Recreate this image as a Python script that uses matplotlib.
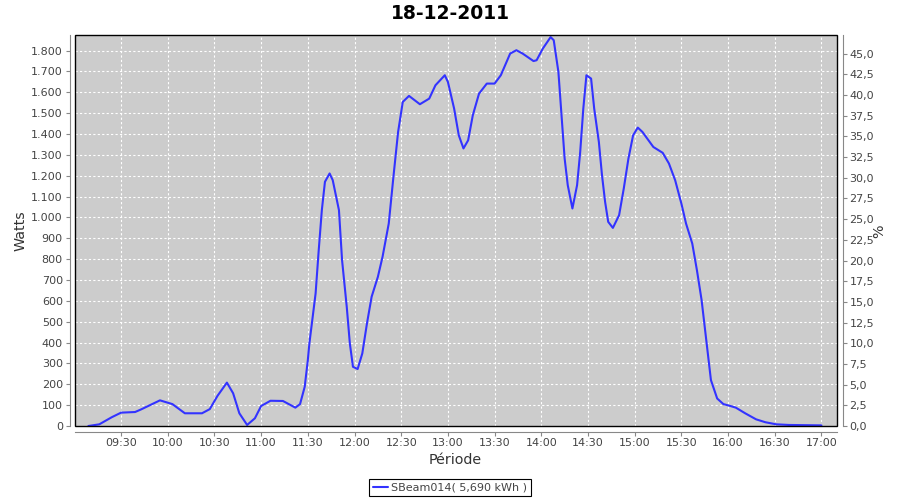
import matplotlib
matplotlib.use("Agg")
import matplotlib.pyplot as plt
import matplotlib.dates as mdates
from matplotlib.ticker import MultipleLocator, FuncFormatter
from matplotlib.patches import Rectangle
import pandas as pd

# Data (time of day, Watts)
times = ["09:09", "09:16", "09:24", "09:30", "09:39", "09:43", "09:55", "10:03",
         "10:11", "10:22", "10:27", "10:32", "10:38", "10:42", "10:46", "10:51",
         "10:56", "11:00", "11:06", "11:14", "11:22", "11:25", "11:28", "11:30",
         "11:31", "11:35", "11:37", "11:39", "11:41", "11:44", "11:46", "11:50",
         "11:52", "11:55", "11:57", "11:59", "12:02", "12:05", "12:08", "12:11",
         "12:15", "12:18", "12:22", "12:25", "12:28", "12:31", "12:35", "12:42",
         "12:48", "12:52", "12:58", "13:00", "13:04", "13:07", "13:10", "13:13",
         "13:16", "13:20", "13:25", "13:30", "13:34", "13:40", "13:44", "13:48",
         "13:55", "13:57", "14:01", "14:06", "14:08", "14:11", "14:13", "14:15",
         "14:17", "14:20", "14:23", "14:25", "14:27", "14:29", "14:32", "14:34",
         "14:37", "14:39", "14:41", "14:43", "14:46", "14:50", "14:53", "14:56",
         "14:59", "15:02", "15:05", "15:08", "15:12", "15:18", "15:22", "15:26",
         "15:30", "15:33", "15:37", "15:40", "15:43", "15:45", "15:47", "15:49",
         "15:53", "15:57", "16:01", "16:05", "16:11", "16:18", "16:24", "16:31",
         "16:39", "17:00"]
watts = [0, 8, 42, 64, 67, 80, 123, 105,
         61, 61, 81, 145, 208, 157, 61, 5,
         37, 96, 121, 120, 88, 105, 188, 316,
         396, 636, 843, 1035, 1171, 1211, 1179, 1035,
         795, 572, 396, 284, 273, 348, 492, 620,
         715, 811, 971, 1195, 1410, 1554, 1583, 1543,
         1570, 1634, 1682, 1650, 1522, 1394, 1331, 1370,
         1490, 1594, 1642, 1642, 1682, 1786, 1802, 1786,
         1750, 1754, 1810, 1865, 1850, 1698, 1490, 1283,
         1155, 1043, 1155, 1314, 1522, 1682, 1666, 1522,
         1362, 1203, 1075, 979, 950, 1011, 1139, 1283,
         1394, 1431, 1410, 1379, 1338, 1310, 1259, 1179,
         1067, 971, 875, 747, 604, 476, 348, 220,
         132, 105, 97, 88, 61, 32, 18, 8,
         5, 3]

day = "2011-12-18"
title = "18-12-2011"
series_label = "SBeam014( 5,690 kWh )"

x = pd.to_datetime([day + " " + t for t in times])

grey_txt = "#444444"
axis_grey = "#888888"

fig = plt.figure(figsize=(9, 5), dpi=100)
fig.patch.set_facecolor("white")
ax = fig.add_axes([75.3 / 900, 74 / 500, (837 - 75.3) / 900, 391 / 500])
ax.set_facecolor("#cccccc")

line, = ax.plot(x, watts, color="#3333ff", lw=1.5, label=series_label, zorder=3,
                solid_joinstyle="round", solid_capstyle="round")

ax.set_xlim(pd.Timestamp(day + " 09:00:36"), pd.Timestamp(day + " 17:10:00"))
ax.set_ylim(0, 1875)

ax.xaxis.set_major_locator(mdates.MinuteLocator(byminute=[0, 30]))
ax.xaxis.set_major_formatter(mdates.DateFormatter("%H:%M"))
ax.yaxis.set_major_locator(MultipleLocator(100))
ax.yaxis.set_major_formatter(FuncFormatter(lambda v, p: f"{int(round(v)):,}".replace(",", ".")))

ax.grid(True, color="white", lw=0.8, ls=(0, (2, 2)))
ax.set_axisbelow(True)

for s in ["top", "right"]:
    ax.spines[s].set_visible(False)
for s in ["left", "bottom"]:
    ax.spines[s].set_position(("outward", 4))
    ax.spines[s].set_color(axis_grey)
ax.tick_params(axis="both", colors=axis_grey, labelcolor=grey_txt, labelsize=8,
               length=3, width=0.8, pad=2)

# plot outline
ax.add_patch(Rectangle((0, 0), 1, 1, transform=ax.transAxes, fill=False,
                       ec="black", lw=1.0, clip_on=False, zorder=4))

ax2 = ax.twinx()
ax2.set_ylim(0, 47.26)
ax2.yaxis.set_major_locator(MultipleLocator(2.5))
ax2.yaxis.set_major_formatter(FuncFormatter(lambda v, p: f"{v:.1f}".replace(".", ",")))
for s in ["top", "left", "bottom"]:
    ax2.spines[s].set_visible(False)
ax2.spines["right"].set_position(("outward", 4))
ax2.spines["right"].set_color(axis_grey)
ax2.tick_params(axis="y", colors=axis_grey, labelcolor=grey_txt, labelsize=8,
                length=3, width=0.8, pad=2)

fig.text(0.5, 1 - 13.5 / 500, title, ha="center", va="center",
         fontsize=13.5, fontweight="bold", color="black")
fig.text(21 / 900, 1 - 231 / 500, "Watts", rotation=90, ha="center", va="center",
         fontsize=10.3, color="#333333")
fig.text(879 / 900, 1 - 231 / 500, "%", rotation=90, ha="center", va="center",
         fontsize=10.3, color="#333333")
fig.text(455 / 900, 1 - 460 / 500, "Période", ha="center", va="center",
         fontsize=10.3, color="#333333")

leg = fig.legend(handles=[line], loc="center", bbox_to_anchor=(450 / 900, 1 - 487.5 / 500),
                 frameon=True, fancybox=False, edgecolor="black", framealpha=1,
                 fontsize=8, handlelength=1.4, handletextpad=0.3, borderpad=0.35,
                 borderaxespad=0)
leg.get_frame().set_linewidth(0.8)
for t in leg.get_texts():
    t.set_color(grey_txt)

fig.savefig("out.png", dpi=100)
